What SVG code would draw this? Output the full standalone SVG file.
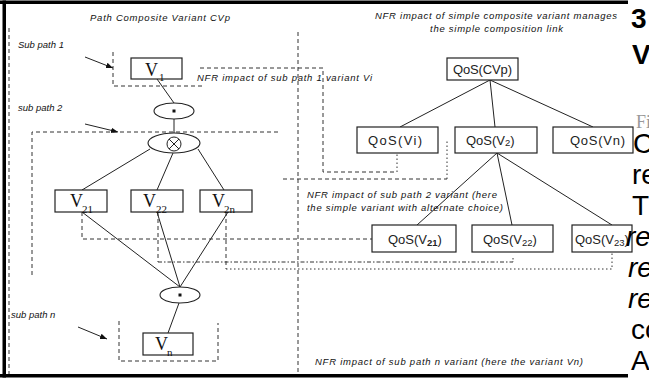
<svg xmlns="http://www.w3.org/2000/svg" width="649" height="379" viewBox="0 0 649 379">
<defs>
<marker id="arr" viewBox="0 0 10 10" refX="10" refY="5" markerWidth="7" markerHeight="7" markerUnits="userSpaceOnUse" orient="auto">
<path d="M0,1 L10,5 L0,9 z" fill="#111"/>
</marker>
<style>
.lbl{font-family:"Liberation Sans",Arial,sans-serif;font-style:italic;font-size:9.5px;fill:#111}
.box{fill:#fff;stroke:#222;stroke-width:1.2}
.v{font-family:"Liberation Serif","Times New Roman",serif;font-size:18px;fill:#111}
.vs{font-size:11px}
.q{font-family:"Liberation Sans",Arial,sans-serif;font-size:13px;fill:#222}
.qs{font-size:9.5px}
.ln{stroke:#222;stroke-width:1;fill:none}
.dash{stroke:#333;stroke-width:1;fill:none;stroke-dasharray:4 3}
.dot{stroke:#333;stroke-width:1;fill:none;stroke-dasharray:1.5 2.5}
.dd{stroke:#333;stroke-width:1;fill:none;stroke-dasharray:4 2 1.5 2}
.op{fill:#fff;stroke:#222;stroke-width:1.1}
.page{font-family:"Liberation Sans",Arial,sans-serif;font-size:28px;fill:#000}
</style>
</defs>
<rect width="649" height="379" fill="#fff"/>

<!-- frame -->
<g id="frame" fill="#000">
<rect x="0" y="0.5" width="628" height="3.5"/>
<rect x="2.5" y="0.5" width="3.5" height="377"/>
<rect x="0" y="374" width="628" height="3.5"/>
</g>

<!-- panel dividers and grouping outlines -->
<g id="outlines">
<path class="dash" d="M9,28 V374"/>
<path class="dash" d="M298,32 V374"/>
<path class="dash" d="M113,52 V86 H203"/>
<path class="dash" d="M200,68 H323 V172 H397"/>
<path class="dot" d="M397,172 V153"/>
<path class="dash" d="M32,275 V132 H280"/>
<path class="dash" d="M283,179 H447"/>
<path class="dot" d="M447,179 V140"/>
<path class="dash" d="M82,212 V239 H372"/>
<path class="dash" d="M158,212 V262"/>
<path class="dd" d="M158,262 H513 V256"/>
<path class="dash" d="M226,212 V269"/>
<path class="dot" d="M226,269 H612 V252"/>
<path class="dash" d="M119,321 V361 H218 V323"/>
</g>

<!-- connectors -->
<g id="connectors">
<path class="ln" d="M157,79 L174,103"/>
<path class="ln" d="M174,119 L174,133"/>
<path class="ln" d="M150,149 L82,190"/>
<path class="ln" d="M173,153 L157,190"/>
<path class="ln" d="M198,149 L224,190"/>
<path class="ln" d="M82,212 L180,287"/>
<path class="ln" d="M157,212 L180,287"/>
<path class="ln" d="M228,212 L180,287"/>
<path class="ln" d="M179,303 L168,333"/>
<path class="ln" d="M85,57 L113,68" marker-end="url(#arr)"/>
<path class="ln" d="M85,124 L118,132" marker-end="url(#arr)"/>
<path class="ln" d="M78,327 L107,339" marker-end="url(#arr)"/>
<path class="ln" d="M490,80 L400,127 M490,80 L495,127 M490,80 L593,127"/>
<path class="ln" d="M497,153 L417,225 M497,153 L512,225 M497,153 L612,225"/>
</g>

<!-- left panel: composite variant -->
<g id="v1">
<rect class="box" x="131" y="58" width="51" height="21"/>
<text class="v" x="145" y="76">V<tspan class="vs" x="159" y="81">1</tspan></text>
</g>
<g id="seq1">
<ellipse class="op" cx="174" cy="111" rx="20" ry="8"/>
<rect x="172.5" y="109.5" width="3" height="3" fill="#111"/>
</g>
<g id="alt">
<ellipse class="op" cx="174" cy="143" rx="26" ry="10"/>
<circle cx="174" cy="144" r="7" fill="none" stroke="#222" stroke-width="1"/>
<path class="ln" d="M169,139 L179,149 M179,139 L169,149"/>
</g>
<g id="v21">
<rect class="box" x="55" y="190" width="52" height="22"/>
<text class="v" x="70" y="207">V<tspan class="vs" x="82" y="213">21</tspan></text>
</g>
<g id="v22">
<rect class="box" x="131" y="190" width="52" height="22"/>
<text class="v" x="143" y="207">V<tspan class="vs" x="156" y="213">22</tspan></text>
</g>
<g id="v2n">
<rect class="box" x="200" y="190" width="52" height="22"/>
<text class="v" x="212" y="207">V<tspan class="vs" x="224" y="213">2n</tspan></text>
</g>
<g id="seq2">
<ellipse class="op" cx="180" cy="295" rx="20" ry="8"/>
<rect x="178.5" y="293.5" width="3" height="3" fill="#111"/>
</g>
<g id="vn">
<rect class="box" x="143" y="333" width="50" height="22"/>
<text class="v" x="155" y="350">V<tspan class="vs" x="167" y="356">n</tspan></text>
</g>

<!-- right panel: QoS tree -->
<g id="qcvp">
<rect class="box" x="447" y="58" width="71" height="22"/>
<text class="q" x="453" y="74" textLength="59">QoS(CVp)</text>
</g>
<g id="qvi">
<rect class="box" x="357" y="127" width="81" height="26"/>
<text class="q" x="368" y="145" textLength="54">QoS(Vi)</text>
</g>
<g id="qv2">
<rect class="box" x="455" y="127" width="82" height="26"/>
<text class="q" x="466" y="145">QoS(V<tspan class="qs" dy="1">2</tspan><tspan dy="-1">)</tspan></text>
</g>
<g id="qvn">
<rect class="box" x="553" y="127" width="80" height="26"/>
<text class="q" x="570" y="145" textLength="55">QoS(Vn)</text>
</g>
<g id="qv21">
<rect class="box" x="372" y="225" width="84" height="27"/>
<text class="q" x="388" y="244">QoS(V<tspan class="qs" dy="2" font-weight="bold">21</tspan><tspan dy="-2">)</tspan></text>
</g>
<g id="qv22">
<rect class="box" x="472" y="225" width="81" height="27"/>
<text class="q" x="483" y="244">QoS(V<tspan class="qs" dy="2">22</tspan><tspan dy="-2">)</tspan></text>
</g>
<g id="qv23">
<rect class="box" x="572" y="225" width="60" height="27"/>
<text class="q" x="575" y="244">QoS(V<tspan class="qs" dy="2">23</tspan><tspan dy="-2">)</tspan></text>
</g>

<!-- annotations -->
<g id="labels">
<text class="lbl" x="90" y="21" font-size="10.5" textLength="140">Path Composite Variant CVp</text>
<text class="lbl" x="18" y="48">Sub path 1</text>
<text class="lbl" x="197" y="81" textLength="175">NFR impact of sub path 1 variant Vi</text>
<text class="lbl" x="18" y="111">sub path 2</text>
<text class="lbl" x="11" y="318">sub path n</text>
<text class="lbl" x="375" y="19" textLength="242">NFR impact of simple composite variant manages</text>
<text class="lbl" x="430" y="32" textLength="133">the simple composition link</text>
<text class="lbl" x="307" y="198" textLength="190">NFR impact of sub path 2 variant (here</text>
<text class="lbl" x="307" y="211" textLength="196">the simple variant with alternate choice)</text>
<text class="lbl" x="315" y="365" textLength="268">NFR impact of sub path n variant (here the variant Vn)</text>
</g>

<!-- adjoining page text -->
<g id="pagetext">
<text class="page" x="631" y="28" font-size="25" font-weight="bold">3</text>
<text class="page" x="632" y="64" font-size="22" font-weight="bold">V</text>
<text x="636" y="128" font-family="Liberation Serif,serif" font-size="18" fill="#999">Fi</text>
<text class="page" x="633" y="153">C</text>
<text class="page" x="632" y="184">re</text>
<text class="page" x="632" y="215">T</text>
<text class="page" x="626" y="246" font-style="italic">re</text>
<text class="page" x="628" y="277" font-style="italic">re</text>
<text class="page" x="628" y="308" font-style="italic">re</text>
<text class="page" x="631" y="339">co</text>
<text class="page" x="631" y="370">A</text>
<text class="page" x="631" y="398">N</text>
</g>
</svg>
